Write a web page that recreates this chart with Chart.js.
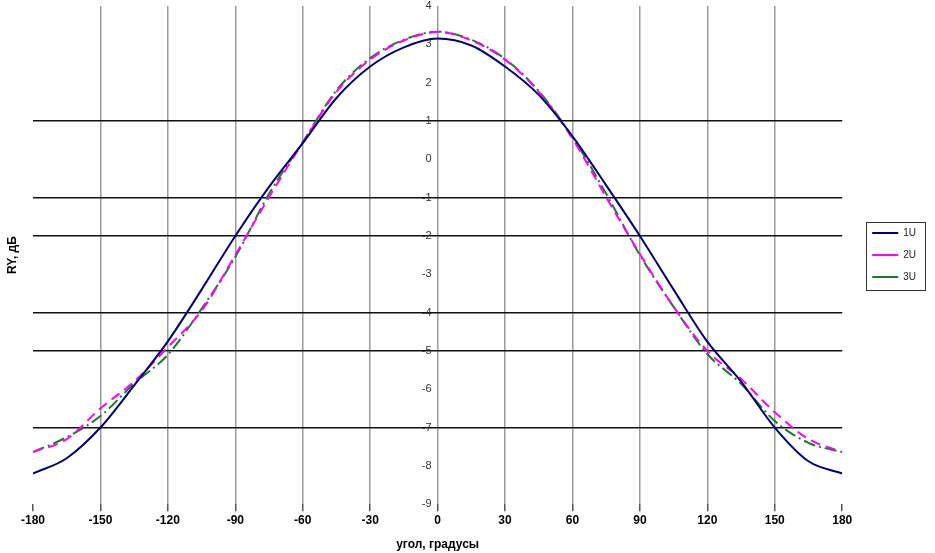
<!DOCTYPE html>
<html><head><meta charset="utf-8">
<script src="https://cdn.jsdelivr.net/npm/chart.js@4"></script>
<style>html,body{margin:0;padding:0;background:#fff}canvas{display:block}</style>
</head><body>
<canvas id="c" width="935" height="553"></canvas>
<script>
const angles = [-180,-165,-150,-135,-120,-105,-90,-75,-60,-45,-30,-15,0,15,30,45,60,75,90,105,120,135,150,165,180];
const seriesNames = ['1U','2U','3U'];
const u1 = [-8.2,-7.8,-7.0,-5.9,-4.75,-3.4,-2.0,-0.72,0.42,1.6,2.42,2.92,3.15,2.97,2.42,1.68,0.6,-0.68,-2.0,-3.4,-4.76,-5.8,-7.0,-7.88,-8.2];
const u2 = [-7.64,-7.3,-6.5,-5.8,-4.9,-3.95,-2.5,-0.99,0.43,1.76,2.6,3.1,3.32,3.1,2.6,1.76,0.54,-0.99,-2.47,-3.85,-5.0,-5.73,-6.6,-7.3,-7.64];
const u3 = [-7.64,-7.25,-6.7,-5.85,-5.1,-3.9,-2.55,-0.9,0.45,1.8,2.64,3.12,3.33,3.12,2.62,1.78,0.58,-0.9,-2.5,-3.85,-5.08,-5.86,-6.83,-7.4,-7.64];
const xTickStep = 30;
const xMin = -180, xMax = 180;
const yMin = -9, yMax = 4;
const yGridShown = [1,-1,-2,-4,-5,-7];
const xTitle = 'угол, градусы';
const yTitle = 'RY, дБ';

const toPts = arr => angles.map((a,i)=>({x:a,y:arr[i]}));

const bgPlugin = {
  id:'bg',
  beforeDraw(chart){const c=chart.ctx;c.save();c.fillStyle='#fff';c.fillRect(0,0,chart.width,chart.height);c.restore();}
};
const legendBorder = {
  id:'legendBorder',
  afterDraw(chart){
    const lg = chart.legend; if(!lg || !lg.legendHitBoxes || !lg.legendHitBoxes.length) return;
    const hb = lg.legendHitBoxes;
    let l=Infinity,t=Infinity,r=-Infinity,b=-Infinity;
    hb.forEach(h=>{l=Math.min(l,h.left);t=Math.min(t,h.top);r=Math.max(r,h.left+h.width);b=Math.max(b,h.top+h.height);});
    const c=chart.ctx;c.save();c.strokeStyle='#333';c.lineWidth=1;
    c.strokeRect(Math.round(l-6)+0.5,Math.round(t-6)+0.5,Math.round(r-l+15),Math.round(b-t+14));
    c.restore();
  }
};

new Chart(document.getElementById('c'), {
  type:'line',
  data:{
    datasets:[
      {label:seriesNames[0],data:toPts(u1),borderColor:'#000070',backgroundColor:'#000070',borderWidth:2,pointRadius:0,cubicInterpolationMode:'monotone'},
      {label:seriesNames[1],data:toPts(u2),borderColor:'#ff00ff',backgroundColor:'#ff00ff',borderWidth:2,borderDash:[10,6],pointRadius:0,cubicInterpolationMode:'monotone'},
      {label:seriesNames[2],data:toPts(u3),borderColor:'#1f7a2a',backgroundColor:'#1f7a2a',borderWidth:2,borderDash:[12,4,2,4],pointRadius:0,cubicInterpolationMode:'monotone'}
    ]
  },
  options:{
    responsive:false,
    animation:false,
    devicePixelRatio:1,
    layout:{padding:{left:0,right:9,top:6,bottom:0}},
    plugins:{
      tooltip:{enabled:false},
      legend:{
        position:'right',
        fullSize:false,
        labels:{usePointStyle:true,pointStyle:'line',pointStyleWidth:26,padding:12,color:'#222',font:{family:'Liberation Sans',size:10}}
      }
    },
    scales:{
      x:{
        type:'linear',min:xMin,max:xMax,
        ticks:{stepSize:xTickStep,color:'#000',padding:2,font:{family:'Liberation Sans',size:12,weight:'bold'}},
        grid:{color:ctx=>(ctx.tick && (ctx.tick.value===xMin||ctx.tick.value===xMax))?'rgba(0,0,0,0)':'#9a9a9a',lineWidth:1.5,tickColor:'#555',tickLength:7},
        border:{display:false},
        title:{display:true,text:xTitle,color:'#000',padding:{top:8,bottom:1},font:{family:'Liberation Sans',size:12,weight:'bold'}}
      },
      y:{
        position:{x:0},min:yMin,max:yMax,
        ticks:{stepSize:1,color:'#333',font:{family:'Liberation Sans',size:11},callback:v=>v+'  '},
        grid:{color:ctx=>(ctx.tick && yGridShown.includes(ctx.tick.value))?'#111':'rgba(0,0,0,0)',lineWidth:1.5,drawTicks:false},
        border:{display:false},
        afterFit:s=>{s.paddingTop=0;s.paddingBottom=0;}
      },
      yTitleAxis:{
        axis:'y',position:'left',display:true,
        grid:{display:false},border:{display:false},ticks:{display:false},
        title:{display:true,text:yTitle,color:'#000',padding:{top:5,bottom:0},font:{family:'Liberation Sans',size:12,weight:'bold'}},
        afterFit:s=>{s.width=33;}
      },
      yGap:{
        axis:'y',position:'right',display:true,
        grid:{display:false},border:{display:false},ticks:{display:false},
        afterFit:s=>{s.width=18;}
      }
    }
  },
  plugins:[bgPlugin,legendBorder]
});
</script>
</body></html>
